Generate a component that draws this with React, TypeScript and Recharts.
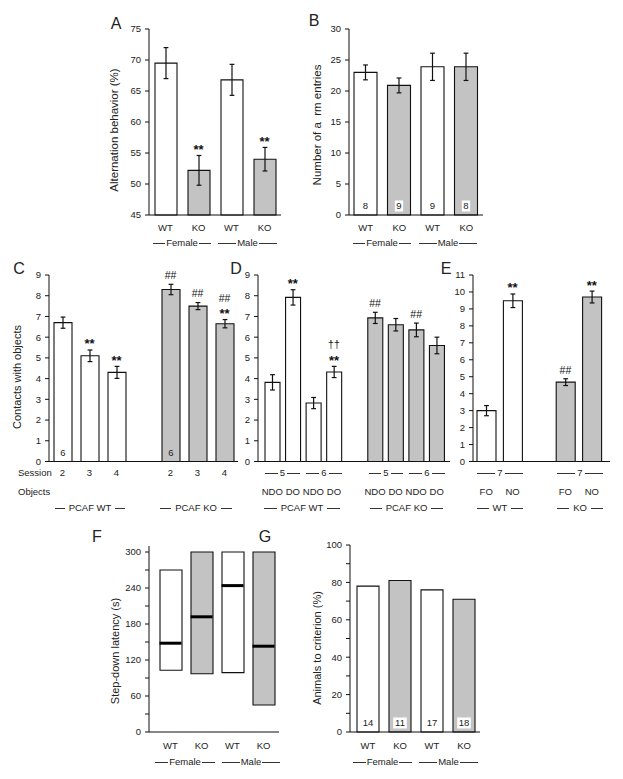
import React from 'react';
import { ComposedChart, Bar, Line, XAxis, YAxis, ErrorBar, Cell, LabelList } from 'recharts';

const FONT = '"Liberation Sans", Arial, Helvetica, sans-serif';
const INK = '#222';
const GRAY = '#c3c3c3';

// A: alternation behaviour
const sexTicks = ['WT', 'KO', 'WT', 'KO'];
const sexFill = ['w', 'g', 'w', 'g'];
const altMean = [69.5, 52.2, 66.8, 54.0];
const altErr = [2.5, 2.4, 2.5, 1.9];
const altSig = ['', '**', '', '**'];

// B: arm entries
const armMean = [23.0, 20.9, 23.9, 23.9];
const armErr = [1.2, 1.2, 2.2, 2.2];
const armN = ['8', '9', '9', '8'];

// C: contacts, sessions 2-4
const sessionTicks = ['2', '3', '4', '', '2', '3', '4'];
const sessionFill = ['w', 'w', 'w', '', 'g', 'g', 'g'];
const sessionMean = [6.7, 5.1, 4.3, null, 8.3, 7.5, 6.65];
const sessionErr = [0.27, 0.28, 0.29, null, 0.25, 0.17, 0.2];
const sessionSig = ['', '**', '**', '', '##', '##', '##|**'];
const sessionN = ['6', '', '', '', '6', '', ''];

// D: displaced / non-displaced objects, sessions 5-6
const objTicks = ['NDO', 'DO', 'NDO', 'DO', '', 'NDO', 'DO', 'NDO', 'DO'];
const objFill = ['w', 'w', 'w', 'w', '', 'g', 'g', 'g', 'g'];
const objMean = [3.82, 7.92, 2.82, 4.32, null, 6.93, 6.6, 6.35, 5.6];
const objErr = [0.37, 0.37, 0.27, 0.27, null, 0.27, 0.3, 0.33, 0.4];
const objSig = ['', '**', '', '††|**', '', '##', '', '##', ''];

// E: familiar / novel object, session 7
const novTicks = ['FO', 'NO', '', 'FO', 'NO'];
const novFill = ['w', 'w', '', 'g', 'g'];
const novMean = [3.0, 9.48, null, 4.68, 9.7];
const novErr = [0.3, 0.4, null, 0.2, 0.35];
const novSig = ['', '**', '', '##', '**'];

// F: step-down latency (interquartile range + median)
const latLow = [103, 97, 99, 45];
const latHigh = [270, 300, 300, 300];
const latMedian = [148, 192, 244, 143];

// G: animals to criterion
const critPct = [78, 81, 76, 71];
const critN = ['14', '11', '17', '18'];

type Row = {
  key: string;
  tick: string;
  fill: string;
  mean?: number | null;
  err?: number | null;
  top?: number | null;
  sig?: string;
  n?: string;
  range?: [number, number];
  median?: number;
};

const rows = (ticks: string[], fill: string[], mean: (number | null)[], err?: (number | null)[], sig?: string[], n?: string[]): Row[] =>
  ticks.map((t, i) => {
    const m = mean[i];
    const e = err ? err[i] : null;
    return {
      key: `c${i}`,
      tick: t,
      fill: fill[i],
      mean: m,
      err: e,
      top: m == null ? null : m + (e ?? 0),
      sig: sig ? sig[i] : '',
      n: n ? n[i] : '',
    };
  });

const dataA = rows(sexTicks, sexFill, altMean, altErr, altSig);
const dataB = rows(sexTicks, sexFill, armMean, armErr, undefined, armN);
const dataC = rows(sessionTicks, sessionFill, sessionMean, sessionErr, sessionSig, sessionN);
const dataD = rows(objTicks, objFill, objMean, objErr, objSig);
const dataE = rows(novTicks, novFill, novMean, novErr, novSig);
const dataF: Row[] = sexTicks.map((t, i) => ({
  key: `c${i}`,
  tick: t,
  fill: sexFill[i],
  range: [latLow[i], latHigh[i]],
  median: latMedian[i],
}));
const dataG = rows(sexTicks, sexFill, critPct, undefined, undefined, critN);

const YW = 34;
const XH = 44;
const MT = 6;
const MR = 4;

function XTick({ x, y, payload, rows: rs, dy }: any) {
  const row = rs.find((r: Row) => r.key === payload?.value);
  if (!row || !row.tick) return null;
  return (
    <text x={x} y={y + dy + 3.4} textAnchor="middle" fontSize={9.5} fill={INK} fontFamily={FONT}>
      {row.tick}
    </text>
  );
}

function SigLabel(p: any) {
  const vb = p.viewBox || {};
  const x = vb.x ?? p.x;
  const y = vb.y ?? p.y;
  if (!p.value || x == null || y == null || isNaN(y)) return null;
  const parts = String(p.value).split('|').reverse();
  return (
    <g>
      {parts.map((s, k) => {
        const c = y - 9 - 12.5 * k;
        const star = s.startsWith('*');
        const fs = star ? 13 : 10.5;
        const base = star ? c + 0.57 * fs : s.startsWith('#') ? c + 0.36 * fs : c + 0.3 * fs;
        return (
          <text key={k} x={x} y={base} textAnchor="middle" fontSize={fs} fontWeight={star ? 700 : 400} fill="#111" fontFamily={FONT}>
            {s}
          </text>
        );
      })}
    </g>
  );
}

function NLabel(p: any, data: Row[]) {
  const vb = p.viewBox || {};
  const x = vb.x ?? p.x;
  const y = vb.y ?? p.y;
  const w = vb.width ?? p.width;
  const h = vb.height ?? p.height;
  if (!p.value || x == null) return null;
  const row = data[p.index];
  const cx = x + w / 2;
  const cy = y + h - 9;
  const tw = String(p.value).length * 5.3 + 3;
  return (
    <g>
      {row && row.fill === 'g' && <rect x={cx - tw / 2} y={cy - 5.5} width={tw} height={11} fill="#fff" />}
      <text x={cx} y={cy + 3.4} textAnchor="middle" fontSize={9.5} fill={INK} fontFamily={FONT}>
        {p.value}
      </text>
    </g>
  );
}

type PanelProps = {
  axisX: number;
  topPx: number;
  botPx: number;
  rightPx: number;
  domain: [number, number];
  ticks: number[];
  labelStep?: number;
  data: Row[];
  barSize: number;
  padL?: number;
  padR?: number;
  tickDy?: number;
  ranged?: boolean;
};

function Panel({ axisX, topPx, botPx, rightPx, domain, ticks, labelStep, data, barSize, padL = 0, padR = 0, tickDy = 13, ranged = false }: PanelProps) {
  const left = axisX - YW;
  const top = topPx - MT;
  const width = rightPx - left + MR;
  const height = botPx - top + XH;
  return (
    <div style={{ position: 'absolute', left, top }}>
      <ComposedChart width={width} height={height} data={data} margin={{ top: MT, right: MR, bottom: 0, left: 0 }}>
        <XAxis
          dataKey="key"
          interval={0}
          tickLine={false}
          tickSize={0}
          tickMargin={0}
          height={XH}
          axisLine={{ stroke: '#111' }}
          padding={{ left: padL, right: padR }}
          tick={(p: any) => <XTick {...p} rows={data} dy={tickDy} />}
        />
        <YAxis
          type="number"
          domain={domain}
          ticks={ticks}
          interval={0}
          width={YW}
          tickSize={4}
          tickMargin={4}
          axisLine={{ stroke: '#111' }}
          tickLine={{ stroke: '#111' }}
          tick={{ fontSize: 9.5, fill: INK, fontFamily: FONT }}
          tickFormatter={(v: number) => (labelStep && v % labelStep !== 0 ? '' : String(v))}
        />
        <Bar dataKey={ranged ? 'range' : 'mean'} barSize={barSize} stroke="#111" strokeWidth={1.1} isAnimationActive={false}>
          {data.map((d, i) => (
            <Cell key={i} fill={d.fill === 'g' ? GRAY : '#fff'} />
          ))}
          {!ranged && data.some((d) => d.err) && <ErrorBar dataKey="err" width={2.4} stroke="#111" strokeWidth={1.2} />}
          {!ranged && data.some((d) => d.n) && <LabelList dataKey="n" content={(p: any) => NLabel(p, data)} />}
        </Bar>
        {!ranged && data.some((d) => d.sig) && (
          <Line dataKey="top" stroke="none" dot={false} activeDot={false} legendType="none" isAnimationActive={false}>
            <LabelList dataKey="sig" content={SigLabel} />
          </Line>
        )}
        {ranged && (
          <Line
            dataKey="median"
            stroke="none"
            activeDot={false}
            legendType="none"
            isAnimationActive={false}
            dot={(p: any) => (
              <line key={`m${p.index}`} x1={p.cx - barSize / 2} x2={p.cx + barSize / 2} y1={p.cy} y2={p.cy} stroke="#000" strokeWidth={3} />
            )}
          />
        )}
      </ComposedChart>
    </div>
  );
}

function Txt({ x, y, children, size = 9.5, anchor = 'middle', rotate = false, weight = 400 }: any) {
  const tx = anchor === 'middle' ? '-50%' : anchor === 'end' ? '-100%' : '0';
  return (
    <div
      style={{
        position: 'absolute',
        left: x,
        top: y,
        transform: rotate ? 'translate(-50%,-50%) rotate(-90deg)' : `translate(${tx},-50%)`,
        fontSize: size,
        fontWeight: weight,
        lineHeight: 1,
        whiteSpace: 'pre',
        color: INK,
        fontFamily: FONT,
      }}
    >
      {children}
    </div>
  );
}

function Group({ x1, x2, y, text, gap = 1 }: { x1: number; x2: number; y: number; text: string; gap?: number }) {
  const line = <span style={{ flex: 1, height: 0, borderTop: '1px solid #333' }} />;
  return (
    <div
      style={{
        position: 'absolute',
        left: x1,
        top: y - 6,
        width: x2 - x1,
        height: 12,
        display: 'flex',
        alignItems: 'center',
        fontSize: 9.5,
        lineHeight: 1,
        color: INK,
        fontFamily: FONT,
        whiteSpace: 'nowrap',
      }}
    >
      {line}
      <span style={{ padding: `0 ${gap}px` }}>{text}</span>
      {line}
    </div>
  );
}

const range = (a: number, b: number, s: number) => {
  const out: number[] = [];
  for (let v = a; v <= b; v += s) out.push(v);
  return out;
};

export default function App() {
  return (
    <div style={{ position: 'absolute', left: 0, top: 0, width: 623, height: 779, background: '#fff', overflow: 'hidden' }}>
      <Panel axisX={149} topPx={29} botPx={215} rightPx={281} domain={[45, 75]} ticks={range(45, 75, 5)} data={dataA} barSize={22} />
      <Panel axisX={349} topPx={29} botPx={215} rightPx={483} domain={[0, 30]} ticks={range(0, 30, 5)} data={dataB} barSize={23} />
      <Panel axisX={49} topPx={275} botPx={461.5} rightPx={238} domain={[0, 9]} ticks={range(0, 9, 1)} data={dataC} barSize={18} tickDy={11.5} />
      <Panel axisX={258} topPx={275} botPx={461.5} rightPx={450} domain={[0, 9]} ticks={range(0, 9, 1)} data={dataD} barSize={15} padL={4} padR={3} tickDy={30.5} />
      <Panel axisX={473} topPx={275} botPx={461.5} rightPx={610} domain={[0, 11]} ticks={range(0, 11, 1)} data={dataE} barSize={19} padR={5} tickDy={30.5} />
      <Panel axisX={149} topPx={546} botPx={732} rightPx={279} domain={[0, 310]} ticks={range(0, 300, 30)} labelStep={60} data={dataF} barSize={22} padL={6} tickDy={14} ranged />
      <Panel axisX={350} topPx={545} botPx={732} rightPx={480} domain={[0, 100]} ticks={range(0, 100, 10)} labelStep={20} data={dataG} barSize={22} padL={2} tickDy={14} />

      <Txt x={116} y={24} size={16}>A</Txt>
      <Txt x={314} y={21} size={16}>B</Txt>
      <Txt x={19} y={269} size={16}>C</Txt>
      <Txt x={236} y={269} size={16}>D</Txt>
      <Txt x={446} y={269} size={16}>E</Txt>
      <Txt x={97} y={537} size={16}>F</Txt>
      <Txt x={265} y={537} size={16}>G</Txt>

      <Txt x={115} y={130} size={11.5} rotate>Alternation behavior (%)</Txt>
      <Txt x={318} y={125} size={11.5} rotate>Number of a  rm entries</Txt>
      <Txt x={17} y={377} size={11} rotate>Contacts with objects</Txt>
      <Txt x={115} y={651} size={11} rotate>Step-down latency (s)</Txt>
      <Txt x={317} y={648} size={11} rotate>Animals to criterion (%)</Txt>

      <Group x1={153} x2={211} y={243} text="Female" />
      <Group x1={218} x2={277} y={243} text="Male" />
      <Group x1={353} x2={411} y={243} text="Female" />
      <Group x1={419} x2={477} y={243} text="Male" />

      <Txt x={18} y={473} anchor="start">Session</Txt>
      <Txt x={18} y={492} anchor="start">Objects</Txt>
      <Group x1={55} x2={125} y={508} text="PCAF WT" gap={4} />
      <Group x1={160} x2={232} y={508} text="PCAF KO" gap={4} />

      <Group x1={265} x2={300} y={473} text="5" gap={2} />
      <Group x1={306} x2={342} y={473} text="6" gap={2} />
      <Group x1={369} x2={403} y={473} text="5" gap={2} />
      <Group x1={409} x2={445} y={473} text="6" gap={2} />
      <Group x1={264} x2={340} y={508} text="PCAF WT" gap={4} />
      <Group x1={370} x2={443} y={508} text="PCAF KO" gap={4} />

      <Group x1={477} x2={523} y={473} text="7" gap={2} />
      <Group x1={557} x2={603} y={473} text="7" gap={2} />
      <Group x1={477} x2={523} y={508} text="WT" gap={4} />
      <Group x1={557} x2={603} y={508} text="KO" gap={4} />

      <Group x1={155} x2={215} y={762} text="Female" />
      <Group x1={222} x2={280} y={762} text="Male" />
      <Group x1={353} x2={412} y={762} text="Female" />
      <Group x1={419} x2={478} y={762} text="Male" />
    </div>
  );
}
